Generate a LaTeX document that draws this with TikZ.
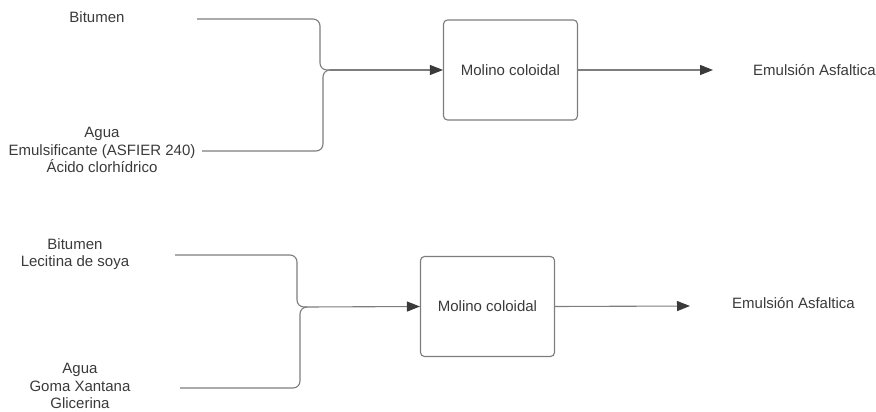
\documentclass[tikz,border=0pt]{standalone}
\usepackage{fontspec}
\setmainfont{Liberation Sans}
\usepackage{tikz}
\usepackage{xcolor}
\usetikzlibrary{arrows.meta,calc,positioning}
\definecolor{txtgray}{RGB}{58,58,58}
\definecolor{linegray}{RGB}{125,125,125}

\begin{document}
\begin{tikzpicture}[x=1pt,y=-1pt,
  lbl/.style={align=center,text=txtgray,font=\fontsize{15}{17.5}\selectfont,inner sep=0pt},
  mill/.style={draw=linegray,line width=1.1pt,rounded corners=4pt,minimum width=134pt,minimum height=100pt,text=txtgray,font=\fontsize{15}{18}\selectfont},
  feed/.style={draw=linegray,line width=1.1pt,rounded corners=7pt},
  flow/.style={draw=linegray,line width=1.1pt,-{Triangle[length=13pt,width=10pt,color=txtgray]}}]
  \useasboundingbox (0,0) rectangle (876,412);
  % linea superior
  \node[lbl] (bitA) at (97,17) {Bitumen};
  \node[lbl] (aguaA) at (102,150) {Agua\\Emulsificante (ASFIER 240)\\Ácido clorhídrico};
  \node[mill] (millA) at (510.5,70) {Molino coloidal};
  \node[lbl,anchor=west] (outA) at (753,70) {Emulsión Asfaltica};
  \coordinate (inA1) at (197,19);
  \coordinate (inA2) at (202,151);
  \coordinate (endA) at (713,70);
  \draw[feed] (inA1) -- (320,19) -- (320,70) -- (330,70);
  \draw[feed] (inA2) -- (323,151) -- (323,70) -- (330,70);
  \draw[flow] (330,70) -- (millA.west);
  \draw[flow] (millA.east) -- (endA);
  % linea inferior
  \node[lbl] (bitB) at (75,254) {Bitumen\\Lecitina de soya};
  \node[lbl] (aguaB) at (80,386) {Agua\\Goma Xantana\\Glicerina};
  \node[mill] (millB) at (487.5,306.5) {Molino coloidal};
  \node[lbl,anchor=west] (outB) at (732,303) {Emulsión Asfaltica};
  \coordinate (inB1) at (175,255);
  \coordinate (inB2) at (180,388);
  \coordinate (endB) at (690,306);
  \draw[feed] (inB1) -- (297,255) -- (297,307) -- (307,307);
  \draw[feed] (inB2) -- (300,388) -- (300,307) -- (307,307);
  \draw[flow] (307,307) -- (millB.west);
  \draw[flow] (millB.east) -- (endB);
\end{tikzpicture}
\end{document}
